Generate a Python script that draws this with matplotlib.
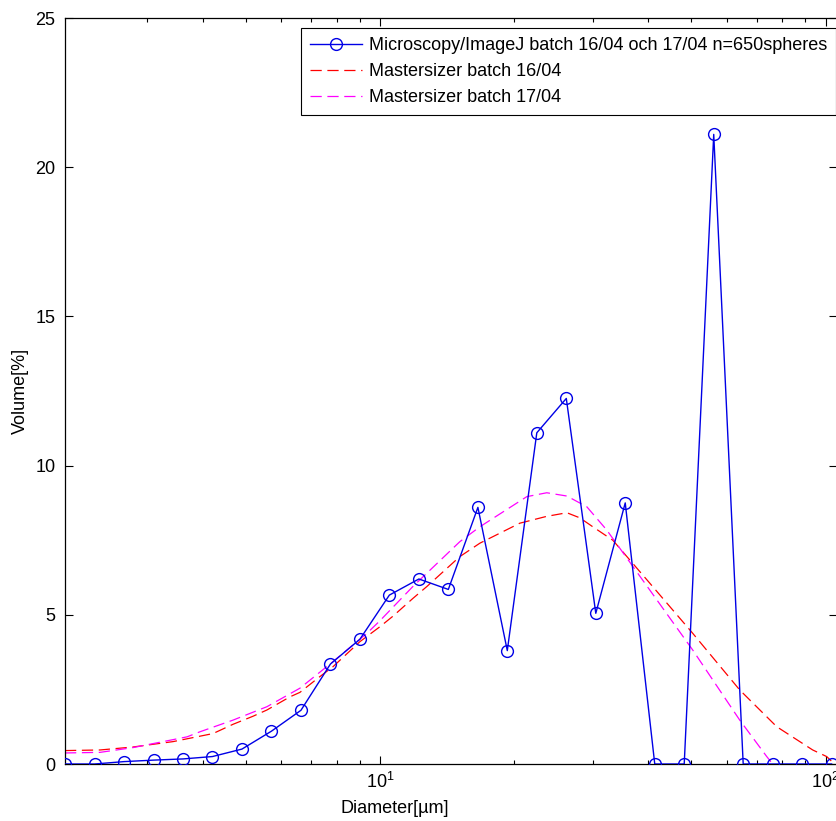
import matplotlib
matplotlib.use("Agg")
import matplotlib.pyplot as plt
from matplotlib.ticker import FixedLocator, NullFormatter

plt.rcParams['font.family'] = ['Liberation Sans', 'DejaVu Sans']
plt.rcParams['mathtext.fontset'] = 'custom'
plt.rcParams['mathtext.rm'] = 'Liberation Sans'
plt.rcParams['mathtext.it'] = 'Liberation Sans'

# ---- data ----
micro_x = [1.966, 2.290, 2.667, 3.106, 3.617, 4.211, 4.904, 5.711, 6.651, 7.745,
           9.018, 10.50, 12.23, 14.24, 16.59, 19.31, 22.49, 26.19, 30.50, 35.51,
           41.36, 48.16, 56.09, 65.31, 76.05, 88.56, 103.1]
micro_y = [0.0, 0.0, 0.08, 0.13, 0.17, 0.25, 0.5, 1.1, 1.8, 3.35,
           4.18, 5.66, 6.2, 5.85, 8.6, 3.8, 11.1, 12.25, 5.05, 8.75,
           0.0, 0.0, 21.1, 0.0, 0.0, 0.0, 0.0]

ms16_x = [1.966, 2.356, 2.794, 3.435, 4.223, 4.682, 5.191, 5.579, 6.283, 6.615,
          7.336, 7.847, 9.019, 10.0, 10.69, 11.86, 12.75, 15.11, 16.76, 20.6,
          23.68, 26.27, 28.08, 30.03, 33.3, 40.31, 50.32, 64.16, 77.66, 93.52,
          100.5, 104.7]
ms16_y = [0.45, 0.47, 0.57, 0.75, 1.02, 1.33, 1.6, 1.81, 2.25, 2.4,
          2.93, 3.26, 4.1, 4.6, 4.95, 5.55, 5.95, 6.95, 7.4, 8.07,
          8.3, 8.42, 8.25, 7.95, 7.5, 6.06, 4.38, 2.48, 1.25, 0.47,
          0.25, 0.0]

ms17_x = [1.966, 2.356, 2.794, 3.693, 3.948, 4.682, 5.579, 6.615, 7.847, 9.352,
          10.0, 10.69, 11.86, 15.11, 16.76, 21.36, 23.68, 26.27, 29.12, 32.28,
          40.31, 50.32, 64.16, 73.75, 76.06]
ms17_y = [0.37, 0.39, 0.55, 0.91, 1.08, 1.47, 1.92, 2.54, 3.43, 4.38,
          4.8, 5.25, 5.95, 7.45, 7.95, 8.96, 9.09, 8.98, 8.62, 7.84,
          5.83, 3.82, 1.47, 0.25, 0.0]

labels = ['Microscopy/ImageJ batch 16/04 och 17/04 n=650spheres',
          'Mastersizer batch 16/04',
          'Mastersizer batch 17/04']

y_ticks = [0, 5, 10, 15, 20, 25]

# ---- figure ----
W, H = 837, 821
FS = 13
fig = plt.figure(figsize=(W / 100, H / 100), dpi=100)
ax_left, ax_right, ax_top, ax_bottom = 65, 837.5, 18, 764
ax = fig.add_axes([ax_left / W, 1 - ax_bottom / H,
                   (ax_right - ax_left) / W, (ax_bottom - ax_top) / H])

ax.plot(micro_x, micro_y, color='#0000e6', linewidth=1.0, marker='o',
        markersize=8.5, markerfacecolor='none', markeredgecolor='#0000e6',
        markeredgewidth=1.0, label=labels[0], zorder=3)
ax.plot(ms16_x, ms16_y, color='#ff0000', linewidth=0.9, dashes=(9, 4.5),
        label=labels[1], zorder=2)
ax.plot(ms17_x, ms17_y, color='#ff00ff', linewidth=0.9, dashes=(9, 4.5),
        label=labels[2], zorder=2)

ax.set_xscale('log')
ax.set_xlim(1.966, 106.3)
ax.set_ylim(0, 25)

ax.set_xticks([10, 100])
ax.set_xticklabels([r'$\mathregular{10^{1}}$', r'$\mathregular{10^{2}}$'])
ax.xaxis.set_minor_locator(FixedLocator([3, 4, 5, 6, 7, 8, 9,
                                         20, 30, 40, 50, 60, 70, 80, 90]))
ax.xaxis.set_minor_formatter(NullFormatter())
ax.set_yticks(y_ticks)
ax.set_yticklabels([str(v) for v in y_ticks])

ax.tick_params(which='both', direction='in', top=True, right=True,
               labelsize=FS, width=0.8, colors='black')
ax.tick_params(which='major', length=6, pad=6)
ax.tick_params(which='minor', length=3)
ax.tick_params(axis='y', pad=7)
for s in ax.spines.values():
    s.set_linewidth(0.9)
    s.set_color('black')

fig.text(395 / W, 1 - 808 / H, 'Diameter[µm]', ha='center', va='center',
         fontsize=FS)
fig.text(20 / W, 1 - 391 / H, 'Volume[%]', ha='center', va='center',
         rotation=90, fontsize=FS)

leg = ax.legend(loc='upper right', bbox_to_anchor=(836 / W, 1 - 28 / H),
                bbox_transform=fig.transFigure, fontsize=FS, frameon=True,
                fancybox=False, shadow=False, framealpha=1, edgecolor='black',
                borderpad=0.5, handlelength=2.9, handletextpad=0.35,
                labelspacing=0.5, borderaxespad=0)
leg.get_frame().set_linewidth(0.8)

fig.savefig('out.png', dpi=100)
